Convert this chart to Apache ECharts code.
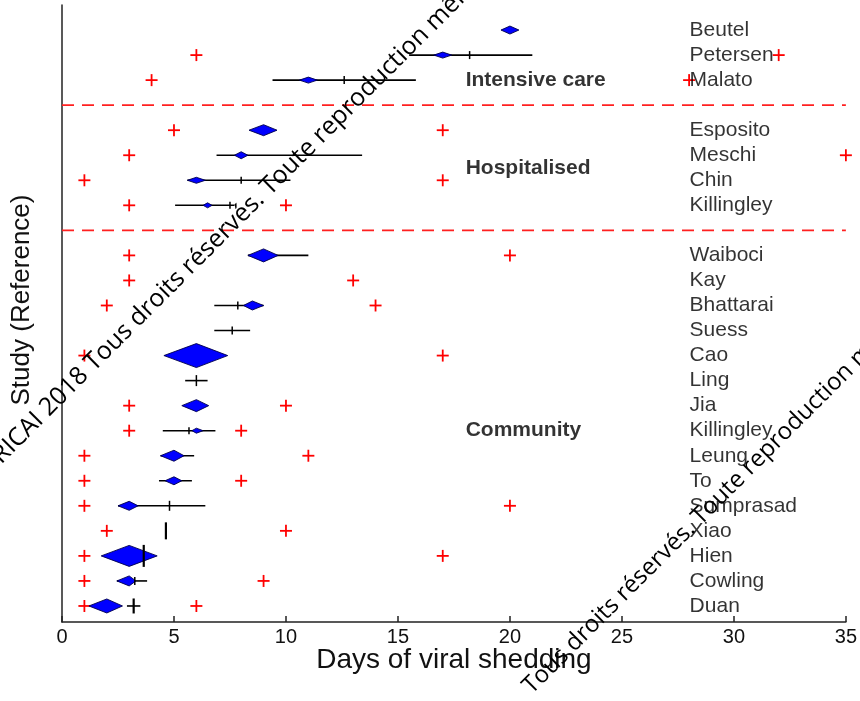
<!DOCTYPE html>
<html><head><meta charset="utf-8">
<script src="https://cdn.jsdelivr.net/npm/echarts@6/dist/echarts.min.js"></script>
<style>html,body{margin:0;padding:0;background:#fff}#chart{width:860px;height:701px}</style>
</head><body><div id="chart"></div>
<script>
// ---- data (top to bottom) ----
const groups = ['Intensive care', 'Hospitalised', 'Community'];
const groupSizes = [3, 4, 15];
const studies = ['Beutel','Petersen','Malato','Esposito','Meschi','Chin','Killingley','Waiboci','Kay','Bhattarai','Suess','Cao','Ling','Jia','Killingley','Leung','To','Sumprasad','Xiao','Hien','Cowling','Duan'];
// red crosses: min / max days
const minDays = [null,6,4,5,3,1,3,3,3,2,null,1,null,3,3,1,1,1,2,1,1,1];
const maxDays = [null,32,28,17,35,17,10,20,13,14,null,17,null,10,8,11,8,20,10,17,9,6];
// black interval and its median tick
const rangeLo = [null,15.5,9.4,null,6.9,5.6,5.05,8.3,null,6.8,6.8,null,5.5,null,4.5,4.4,4.33,2.5,4.64,null,2.45,2.9];
const rangeHi = [null,21.0,15.8,null,13.4,10.2,7.7,11.0,null,9.0,8.4,null,6.5,null,6.85,5.9,5.8,6.4,4.64,null,3.8,3.5];
const medianDays = [null,18.2,12.6,null,null,8.0,7.5,null,null,7.85,7.6,null,6.0,null,5.67,null,null,4.8,4.64,3.65,3.25,3.2];
const medianWeight = [null,8,8,null,null,7,7,null,null,8,8,null,11,null,7,null,null,10,17,22,8,15];
// blue diamonds: mean and its interval, weight
const meanLo = [19.6,16.6,10.6,8.35,7.7,5.6,6.3,8.3,null,8.1,null,4.55,null,5.35,5.8,4.4,4.6,2.5,null,1.75,2.45,1.2];
const meanDays = [20,17,11,9,8,6,6.5,9,null,8.5,null,6,null,6,6,5,5,3,null,3,3,2];
const meanHi = [20.4,17.4,11.4,9.6,8.3,6.4,6.7,9.65,null,9.0,null,7.4,null,6.55,6.3,5.45,5.35,3.4,null,4.25,3.3,2.7];
const studyWeight = [8,6,6,11,7,6,5,13,null,9,null,24,null,12,5,11,8,9,null,21,10,14];
const xTicks = [0,5,10,15,20,25,30,35];

// ---- row positions ----
const rowY = [], sepY = [], groupRowY = [];
const groupLabelOffset = [2, 1.5, 7];
let yy = 24;
groupSizes.forEach((n, g) => {
  const top = yy;
  for (let i = 0; i < n; i++) { rowY.push(yy); yy--; }
  groupRowY.push(top - groupLabelOffset[g]);
  if (g < groupSizes.length - 1) { sepY.push(yy); yy--; }
});

const FONT = 'Liberation Sans, Arial, Helvetica, sans-serif';
const chart = echarts.init(document.getElementById('chart'), null, {renderer: 'canvas'});

function renderRow(params, api) {
  const i = api.value(2);
  const yv = rowY[i];
  const c = (x) => api.coord([x, yv]);
  const ch = [];
  if (rangeLo[i] != null && rangeHi[i] > rangeLo[i]) {
    const a = c(rangeLo[i]), b = c(rangeHi[i]);
    ch.push({type: 'line', shape: {x1: a[0], y1: a[1], x2: b[0], y2: b[1]}, style: {stroke: '#000', lineWidth: 1.6}});
  }
  if (meanDays[i] != null) {
    const l = c(meanLo[i]), m = c(meanDays[i]), r = c(meanHi[i]);
    const h = studyWeight[i] / 2;
    ch.push({type: 'polygon', shape: {points: [[l[0], m[1]], [m[0], m[1] - h], [r[0], m[1]], [m[0], m[1] + h]]},
      style: {fill: '#0000ff', stroke: '#00004a', lineWidth: 0.9}});
  }
  if (medianDays[i] != null) {
    const t = c(medianDays[i]);
    const h = medianWeight[i] / 2;
    ch.push({type: 'line', shape: {x1: t[0], y1: t[1] - h, x2: t[0], y2: t[1] + h}, style: {stroke: '#000', lineWidth: medianWeight[i] > 12 ? 2.2 : 1.5}});
  }
  return {type: 'group', children: ch};
}

function renderCross(params, api) {
  const p = api.coord([api.value(0), api.value(1)]);
  const s = 6;
  return {type: 'group', children: [
    {type: 'line', shape: {x1: p[0] - s, y1: p[1], x2: p[0] + s, y2: p[1]}, style: {stroke: '#ff0000', lineWidth: 1.8}},
    {type: 'line', shape: {x1: p[0], y1: p[1] - s, x2: p[0], y2: p[1] + s}, style: {stroke: '#ff0000', lineWidth: 1.8}}
  ]};
}

function renderSep(params, api) {
  const a = api.coord([0, api.value(0)]), b = api.coord([35, api.value(0)]);
  return {type: 'line', shape: {x1: a[0], y1: a[1], x2: b[0], y2: b[1]},
    style: {stroke: '#ff2020', lineWidth: 1.8, lineDash: [12, 8]}};
}

const crossData = [];
studies.forEach((s, i) => {
  if (minDays[i] != null) crossData.push([minDays[i], rowY[i]]);
  if (maxDays[i] != null) crossData.push([maxDays[i], rowY[i]]);
});

const option = {
  animation: false,
  backgroundColor: '#fff',
  grid: {left: 62, right: 14, top: 5, bottom: 79},
  xAxis: {
    type: 'value', min: xTicks[0], max: xTicks[xTicks.length - 1], interval: 5,
    axisLine: {show: true, lineStyle: {color: '#222', width: 1.5}},
    axisTick: {show: true, inside: true, length: 6, lineStyle: {color: '#222', width: 1.5}},
    axisLabel: {fontSize: 20, color: '#111', margin: 5, fontFamily: FONT},
    splitLine: {show: false},
    name: 'Days of viral shedding', nameLocation: 'middle', nameGap: 24, nameMoveOverlap: false,
    nameTextStyle: {fontSize: 28, color: '#111', fontFamily: FONT}
  },
  yAxis: {
    type: 'value', min: 0.36, max: 25,
    axisLine: {show: true, lineStyle: {color: '#222', width: 1.5}},
    axisTick: {show: false}, axisLabel: {show: false}, splitLine: {show: false}
  },
  series: [
    {type: 'custom', renderItem: renderSep, data: sepY.map(v => [v]), encode: {y: 0}, clip: false, silent: true, z: 1},
    {type: 'custom', renderItem: renderCross, data: crossData, encode: {x: 0, y: 1}, clip: false, silent: true, z: 2},
    {type: 'custom', renderItem: renderRow, data: studies.map((s, i) => [meanDays[i] || 0, rowY[i], i]), encode: {x: 0, y: 1}, clip: false, silent: true, z: 3},
    {type: 'scatter', symbolSize: 1, itemStyle: {color: 'rgba(0,0,0,0)'}, silent: true, z: 4,
      data: studies.map((s, i) => ({value: [28, rowY[i]], name: s})),
      label: {show: true, position: 'right', distance: 0, formatter: p => p.name, fontSize: 21, color: '#000', fontFamily: FONT}},
    {type: 'scatter', symbolSize: 1, itemStyle: {color: 'rgba(0,0,0,0)'}, silent: true, z: 4,
      data: groups.map((g, i) => ({value: [18, groupRowY[i]], name: g})),
      label: {show: true, position: 'right', distance: 0, formatter: p => p.name, fontSize: 21, fontWeight: 'bold', color: '#000', fontFamily: FONT}}
  ],
  graphic: [
    {type: 'text', x: 22, y: 300, rotation: Math.PI / 2, z: 10,
      style: {text: 'Study (Reference)', fontSize: 26, fill: '#111', align: 'center', verticalAlign: 'middle', fontFamily: FONT}},
    {type: 'text', x: -23, y: 479, rotation: Math.PI / 4, z: 20,
      style: {text: '© RICAI 2018 Tous droits réservés. Toute reproduction même partielle interdite', fontSize: 25, fill: '#000', align: 'left', verticalAlign: 'middle', fontFamily: 'Open Sans, sans-serif'}},
    {type: 'text', x: 527, y: 690, rotation: Math.PI / 4, z: 20,
      style: {text: 'Tous droits réservés. Toute reproduction même partielle interdite', fontSize: 24, fill: '#000', align: 'left', verticalAlign: 'middle', fontFamily: 'Open Sans, sans-serif'}}
  ]
};
chart.setOption(option);
</script>
</body></html>
